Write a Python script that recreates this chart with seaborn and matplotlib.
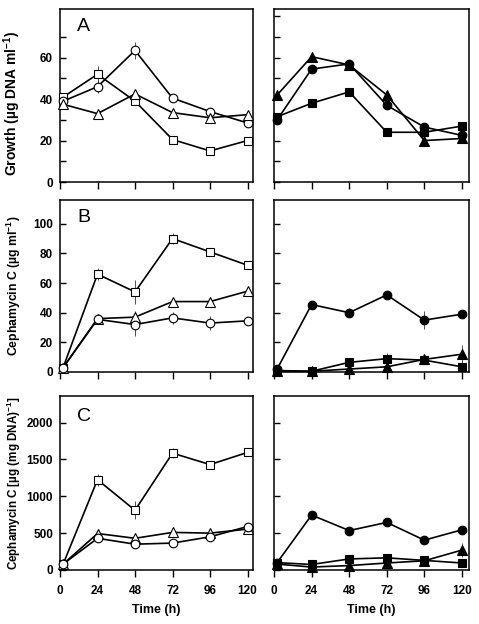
import matplotlib
matplotlib.use("Agg")
import matplotlib.pyplot as plt
import seaborn as sns
import pandas as pd

# ---------------- data ----------------
time_h = [2, 24, 48, 72, 96, 120]
time_ticks = [0, 24, 48, 72, 96, 120]

# Panel A: growth (ug DNA/ml)
a_left_square = [41, 52, 39, 20.5, 15, 20]
a_left_circle = [39, 46, 63.5, 40.5, 34, 28.5]
a_left_triangle = [37.5, 33, 42.5, 33.5, 31, 32.5]
a_right_triangle = [42, 60.5, 56.5, 42, 20, 21]
a_right_circle = [30, 54.5, 57, 37, 26.5, 22.5]
a_right_square = [31.5, 38, 43.5, 24, 24, 27]

# Panel B: cephamycin C (ug/ml)
b_left_square = [3, 66, 54, 90, 81, 72]
b_left_triangle = [3, 36, 37, 47.5, 47.5, 54.5]
b_left_circle = [3, 35.5, 32, 36.5, 33, 34.5]
b_right_circle = [2, 45.5, 40, 52, 35, 39]
b_right_square = [1, 0.5, 6.5, 9, 8, 3.5]
b_right_triangle = [0.5, 0.5, 2, 3.5, 8.5, 12]

# Panel C: specific production (ug/mg DNA)
c_left_square = [80, 1225, 810, 1585, 1430, 1595]
c_left_triangle = [80, 495, 430, 510, 500, 555]
c_left_circle = [80, 430, 350, 365, 450, 590]
c_right_circle = [100, 745, 535, 645, 405, 545]
c_right_square = [100, 75, 150, 165, 130, 95]
c_right_triangle = [80, 40, 60, 95, 125, 270]

# error bars (same order as the series)
a_left_square_err = [0, 4, 0, 0, 0, 0]
a_left_circle_err = [0, 3, 4, 0, 0, 0]
a_left_triangle_err = [0, 0, 0, 0, 0, 0]
b_left_square_err = [0, 4, 8, 4, 0, 0]
b_left_triangle_err = [0, 0, 4, 0, 0, 0]
b_left_circle_err = [0, 0, 8, 4, 5, 0]
b_right_circle_err = [0, 0, 3, 0, 6, 0]
b_right_square_err = [0, 0, 2, 4, 0, 0]
b_right_triangle_err = [0, 0, 0, 0, 0, 6]
c_left_square_err = [0, 80, 120, 70, 50, 0]
c_left_triangle_err = [0, 0, 0, 0, 0, 0]
c_left_circle_err = [0, 0, 0, 0, 0, 40]
c_right_circle_err = [0, 0, 0, 0, 0, 0]
c_right_square_err = [0, 0, 0, 0, 0, 0]
c_right_triangle_err = [0, 0, 0, 0, 0, 100]

panel_letters = ["A", "B", "C"]
y_labels = [
    "Growth (µg DNA ml$^{-1}$)",
    "Cephamycin C (µg ml$^{-1}$)",
    "Cephamycin C [µg (mg DNA)$^{-1}$]",
]
x_label = "Time (h)"

# ---------------- style ----------------
sns.set_style("ticks")
plt.rcParams["font.family"] = ["Liberation Sans", "DejaVu Sans"]
plt.rcParams["font.weight"] = "bold"
plt.rcParams["mathtext.fontset"] = "custom"
plt.rcParams["mathtext.rm"] = "Liberation Sans:bold"
plt.rcParams["mathtext.default"] = "rm"
for key in ["text.color", "axes.labelcolor", "xtick.color", "ytick.color",
            "axes.edgecolor"]:
    plt.rcParams[key] = "black"

fig = plt.figure(figsize=(4.79, 6.24), dpi=100)

col_x = [60 / 479, 274 / 479]
col_w = [193 / 479, 195 / 479]
row_top = [9, 200, 396]
row_bot = [182, 372, 570]

ylims = [(0, 83.5), (0, 116), (0, 2360)]
ymajor = [[0, 20, 40, 60], [0, 20, 40, 60, 80, 100], [0, 500, 1000, 1500, 2000]]
yminor_left = [[10, 30, 50, 70], [], []]
yticks_right = [[0, 10, 20, 30, 40, 50, 60, 70, 80],
                [0, 20, 40, 60, 80, 100],
                [0, 500, 1000, 1500, 2000]]
ylabel_size = [10, 8.8, 8.4]
ylabel_ypos = [0.455, 0.5, 0.5]

series = {
    (0, 0): [(a_left_square, a_left_square_err, "s", False),
             (a_left_circle, a_left_circle_err, "o", False),
             (a_left_triangle, a_left_triangle_err, "^", False)],
    (0, 1): [(a_right_square, None, "s", True),
             (a_right_circle, None, "o", True),
             (a_right_triangle, None, "^", True)],
    (1, 0): [(b_left_square, b_left_square_err, "s", False),
             (b_left_triangle, b_left_triangle_err, "^", False),
             (b_left_circle, b_left_circle_err, "o", False)],
    (1, 1): [(b_right_square, b_right_square_err, "s", True),
             (b_right_triangle, b_right_triangle_err, "^", True),
             (b_right_circle, b_right_circle_err, "o", True)],
    (2, 0): [(c_left_square, c_left_square_err, "s", False),
             (c_left_triangle, c_left_triangle_err, "^", False),
             (c_left_circle, c_left_circle_err, "o", False)],
    (2, 1): [(c_right_square, c_right_square_err, "s", True),
             (c_right_triangle, c_right_triangle_err, "^", True),
             (c_right_circle, c_right_circle_err, "o", True)],
}
msize = {"s": 5.6, "o": 6.2, "^": 6.6}

for r in range(3):
    for c in range(2):
        bottom = 1 - row_bot[r] / 624
        height = (row_bot[r] - row_top[r]) / 624
        ax = fig.add_axes([col_x[c], bottom, col_w[c], height])
        for vals, err, mk, filled in series[(r, c)]:
            if err is not None and any(e > 0 for e in err):
                ax.errorbar(time_h, vals, yerr=err, fmt="none", ecolor="#333333",
                            elinewidth=0.6, capsize=0, zorder=2, clip_on=False)
            df = pd.DataFrame({"t": time_h, "v": vals})
            sns.lineplot(data=df, x="t", y="v", ax=ax, color="black", lw=1.2,
                         marker=mk, markersize=msize[mk],
                         markerfacecolor="black" if filled else "white",
                         markeredgecolor="black", markeredgewidth=0.8,
                         estimator=None, errorbar=None, clip_on=False, zorder=3)
        ax.set_xlim(0, 123.5 if c == 0 else 124.5)
        ax.set_ylim(*ylims[r])
        ax.set_xticks(time_ticks)
        if c == 0:
            ax.set_yticks(ymajor[r])
            ax.set_yticks(yminor_left[r], minor=True)
            ax.tick_params(axis="y", which="minor", direction="in", length=4, width=1)
        else:
            ax.set_yticks(yticks_right[r])
            ax.set_yticklabels([])
        ax.tick_params(axis="y", which="major", direction="in", length=4, width=1,
                       labelsize=8.5, pad=5)
        ax.tick_params(axis="x", direction="out", length=5, width=1,
                       labelsize=8.5, pad=6)
        if r < 2:
            ax.set_xticklabels([])
            ax.set_xlabel("")
        else:
            ax.set_xlabel(x_label, fontsize=9, fontweight="bold", labelpad=5)
        if c == 0:
            ax.set_ylabel(y_labels[r], fontsize=ylabel_size[r], fontweight="bold")
            ax.yaxis.set_label_coords(-0.19, ylabel_ypos[r])
            ax.text(0.09, 0.90 if r < 2 else 0.885, panel_letters[r],
                    transform=ax.transAxes, fontsize=14, fontweight="normal",
                    color="black", ha="left", va="center")
        else:
            ax.set_ylabel("")
        for sp in ax.spines.values():
            sp.set_visible(True)
            sp.set_linewidth(1.1)
            sp.set_color("black")
        for lab in ax.get_xticklabels() + ax.get_yticklabels():
            lab.set_fontweight("bold")

fig.savefig("out.png", dpi=100)
